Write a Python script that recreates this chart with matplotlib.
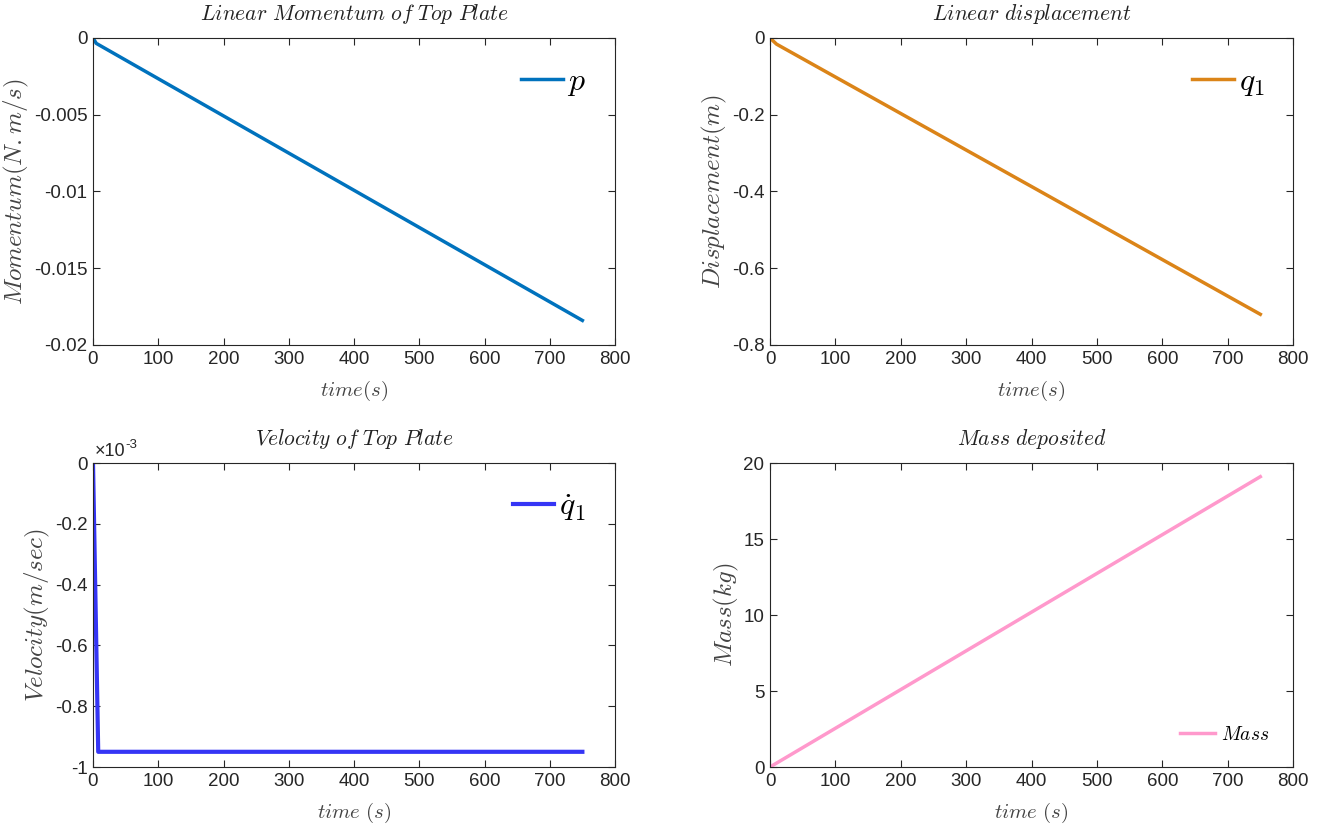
import numpy as np
import matplotlib
matplotlib.use("Agg")
import matplotlib.pyplot as plt
from matplotlib.ticker import FuncFormatter

plt.rcParams['font.family'] = ['Liberation Sans', 'DejaVu Sans']
plt.rcParams['mathtext.fontset'] = 'cm'
plt.rcParams['axes.unicode_minus'] = False

# data
t_p = [0, 5, 750]
p = [0, -0.00035, -0.0184]

t_q = [0, 10, 750]
q1 = [0, -0.016, -0.72]

t_v = [0, 8, 750]
q1dot = [0, -0.95e-3, -0.95e-3]

t_m = [0, 750]
mass = [0, 19.1]

fmt = FuncFormatter(lambda v, pos: '%g' % v)
fig = plt.figure(figsize=(13.2, 8.36), dpi=100)

def setup(ax, title, xlabel, ylabel, ylim, yticks):
    ax.set_xlim(0, 800)
    ax.set_xticks(range(0, 801, 100))
    ax.set_ylim(*ylim)
    ax.set_yticks(yticks)
    ax.xaxis.set_major_formatter(fmt)
    ax.yaxis.set_major_formatter(fmt)
    ax.tick_params(direction='in', top=True, right=True, labelsize=13.5,
                   length=5, width=0.8, colors='#262626', pad=4)
    for s in ax.spines.values():
        s.set_color('#262626')
        s.set_linewidth(0.8)
    ax.set_title(title, fontsize=15.5, pad=13, color='#222222')
    ax.set_xlabel(xlabel, fontsize=15, color='#444444', labelpad=8)
    ax.set_ylabel(ylabel, fontsize=18, color='#444444', labelpad=2)

def big_legend(ax):
    ax.legend(loc='upper right', frameon=False, fontsize=23, handlelength=1.3,
              handletextpad=0.15, borderaxespad=0.5)

W, H = 1320, 836
def box(l, r, tp, b):
    return [l / W, 1 - b / H, (r - l) / W, (b - tp) / H]

ax1 = fig.add_axes(box(93, 615, 38, 345))
ax1.plot(t_p, p, color='#0072BD', lw=2.5, label=r'$p$')
setup(ax1, r'$\mathit{Linear\ Momentum\ of\ Top\ Plate}$', r'$time(s)$',
      r'$Momentum(N.m/s)$', (-0.02, 0), [-0.02, -0.015, -0.01, -0.005, 0])
big_legend(ax1)

ax2 = fig.add_axes(box(770, 1293, 38, 345))
ax2.plot(t_q, q1, color='#DB8418', lw=2.5, label=r'$q_1$')
setup(ax2, r'$\mathit{Linear\ displacement}$', r'$time(s)$',
      r'$Displacement(m)$', (-0.8, 0), [-0.8, -0.6, -0.4, -0.2, 0])
big_legend(ax2)

ax3 = fig.add_axes(box(93, 615, 463, 767))
ax3.plot(t_v, np.array(q1dot) * 1e3, color='#3535F5', lw=3, label=r'$\dot{q}_1$')
setup(ax3, r'$\mathit{Velocity\ of\ Top\ Plate}$', r'$time\ (s)$',
      r'$Velocity(m/sec)$', (-1, 0), [-1, -0.8, -0.6, -0.4, -0.2, 0])
ax3.annotate('\u00d710', xy=(0, 1), xycoords='axes fraction', xytext=(1, 2),
             textcoords='offset points', fontsize=13, color='#262626',
             va='bottom', ha='left')
ax3.annotate('-3', xy=(0, 1), xycoords='axes fraction', xytext=(23.5, 9),
             textcoords='offset points', fontsize=9.5, color='#262626',
             va='bottom', ha='left')
big_legend(ax3)

ax4 = fig.add_axes(box(770, 1293, 463, 767))
ax4.plot(t_m, mass, color='#FF99CC', lw=2.5, label=r'$Mass$')
setup(ax4, r'$\mathit{Mass\ deposited}$', r'$time\ (s)$',
      r'$Mass(kg)$', (0, 20), [0, 5, 10, 15, 20])
ax4.legend(loc='lower right', frameon=False, fontsize=14, handlelength=1.8,
           handletextpad=0.3, borderaxespad=0.8)

fig.savefig('out.png', dpi=100)
